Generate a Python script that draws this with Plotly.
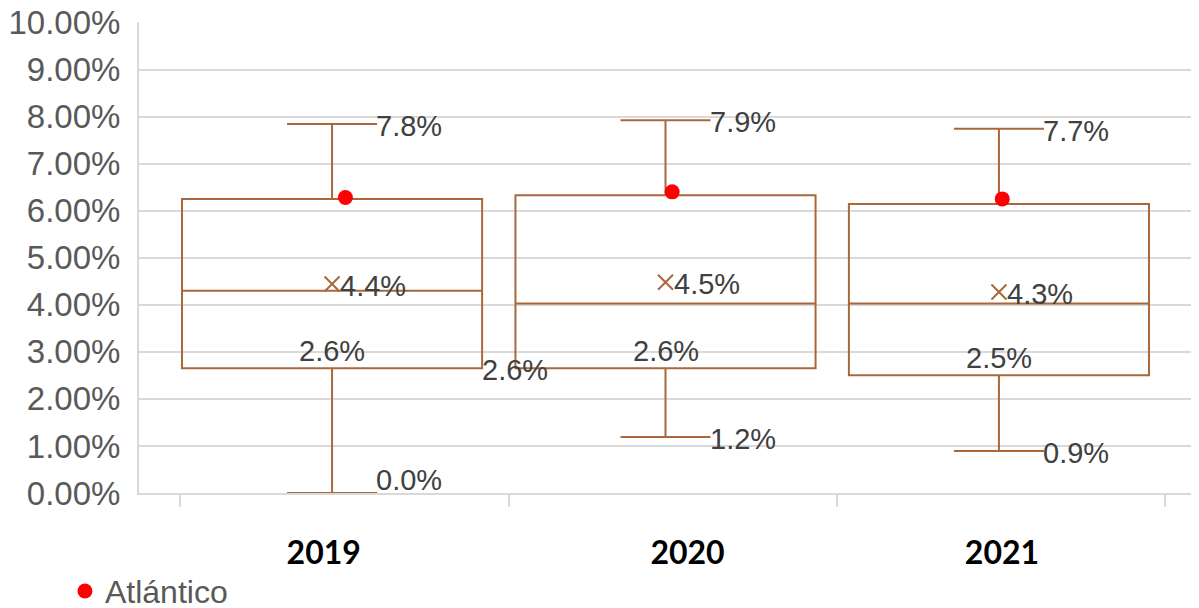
import plotly.graph_objects as go

# ---- data ----
years = ["2019", "2020", "2021"]
q1 = [0.0265, 0.0265, 0.0250]
median = [0.0430, 0.0403, 0.0403]
q3 = [0.0625, 0.0633, 0.0614]
lower = [0.0000, 0.0119, 0.0089]
upper = [0.0784, 0.0792, 0.0774]
mean = [0.0444, 0.0448, 0.0427]
atlantico = [0.0628, 0.0640, 0.0625]

max_labels = ["7.8%", "7.9%", "7.7%"]
min_labels = ["0.0%", "1.2%", "0.9%"]
mean_labels = ["4.4%", "4.5%", "4.3%"]
q1_labels = ["2.6%", "2.6%", "2.5%"]
extra_label = "2.6%"

y_ticks = [i / 100 for i in range(0, 11)]

# ---- styling ----
BROWN = "#A9683C"
GRID = "#D9D9D9"
TXT = "#404040"
AX = "#595959"
pos = list(range(len(years)))
dot_offset = [0.04, 0.02, 0.01]
min_yshift = [13, -2, -2]

fig = go.Figure()

fig.add_trace(go.Box(
    x=pos, q1=q1, median=median, q3=q3,
    lowerfence=lower, upperfence=upper,
    width=0.9, whiskerwidth=0.3,
    fillcolor="rgba(0,0,0,0)",
    line=dict(color=BROWN, width=2),
    boxpoints=False, showlegend=False, hoverinfo="skip",
))

fig.add_trace(go.Scatter(
    x=pos, y=mean, mode="markers",
    marker=dict(symbol="x-thin", size=15, line=dict(color=BROWN, width=2)),
    showlegend=False, hoverinfo="skip",
))

fig.add_trace(go.Scatter(
    x=[p + o for p, o in zip(pos, dot_offset)], y=atlantico, mode="markers",
    marker=dict(color="#FF0000", size=15),
    name="Atlántico", showlegend=True,
))

lab_font = dict(family="Liberation Sans, Arial", size=29, color=TXT)
for i in pos:
    fig.add_annotation(x=i + 0.135, y=upper[i], text=max_labels[i], showarrow=False,
                       xanchor="left", yanchor="middle", xshift=-3, yshift=-2, font=lab_font)
    fig.add_annotation(x=i + 0.135, y=lower[i], text=min_labels[i], showarrow=False,
                       xanchor="left", yanchor="middle", xshift=-3, yshift=min_yshift[i], font=lab_font)
    fig.add_annotation(x=i + 0.025, y=mean[i], text=mean_labels[i], showarrow=False,
                       xanchor="left", yanchor="middle", xshift=-2, yshift=-2, font=lab_font)
    fig.add_annotation(x=i, y=q1[i], text=q1_labels[i], showarrow=False,
                       xanchor="center", yanchor="middle", yshift=17, font=lab_font)
fig.add_annotation(x=0.45, y=q1[0], text=extra_label, showarrow=False,
                   xanchor="left", yanchor="middle", xshift=-2, yshift=-2, font=lab_font)

fig.update_layout(
    width=1191, height=600,
    margin=dict(l=131, r=2, t=14, b=114.5, autoexpand=False),
    paper_bgcolor="white", plot_bgcolor="white",
    legend=dict(x=-0.070, y=-0.150, xanchor="left", yanchor="top",
                font=dict(family="Liberation Sans, Arial", size=32, color=AX),
                bgcolor="rgba(0,0,0,0)"),
)
fig.update_xaxes(
    range=[-0.579, 2.594], automargin=False, layer="below traces",
    tickmode="array", tickvals=[-0.025, 1.066, 2.009], ticktext=years,
    ticks="", ticklabelstandoff=31,
    tickfont=dict(family="Lato, Liberation Sans", size=32, color="black", weight="bold"),
    showgrid=False, zeroline=False,
    showline=True, linecolor=GRID, linewidth=2,
    minor=dict(tickmode="array", tickvals=[-0.456, 0.531, 1.514, 2.498],
               ticks="outside", ticklen=12, tickcolor=GRID, tickwidth=2, showgrid=False),
)
fig.update_yaxes(
    range=[0, 0.1001], automargin=False, layer="below traces",
    tickmode="array", tickvals=y_ticks, tickformat=".2%",
    tickfont=dict(family="Liberation Sans, Arial", size=33, color=AX),
    ticklabelstandoff=10, ticklabeloverflow="allow",
    showgrid=True, gridcolor=GRID, gridwidth=2,
    zeroline=False, showline=True, linecolor=GRID, linewidth=2,
)

fig.write_html("out.html")
